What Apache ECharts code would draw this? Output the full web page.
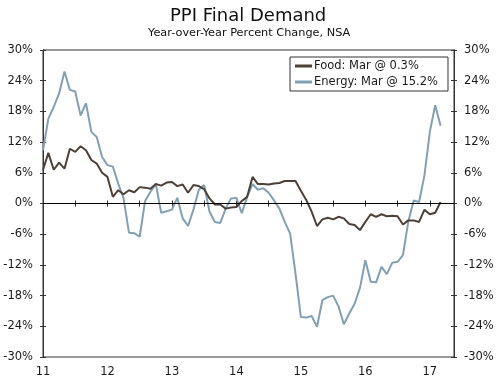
<!DOCTYPE html>
<html>
<head>
<meta charset="utf-8">
<script src="https://cdn.jsdelivr.net/npm/echarts@6/dist/echarts.min.js"></script>
<style>html,body{margin:0;padding:0;background:#fff;}#c{width:500px;height:378px;}</style>
</head>
<body>
<div id="c"></div>
<script>
var startYear = 2011;
var foodName = 'Food: Mar @ 0.3%';
var energyName = 'Energy: Mar @ 15.2%';
var food = [6.6, 9.9, 6.6, 8.0, 6.8, 10.7, 10.1, 11.2, 10.4, 8.5, 7.8, 6.0,
  5.2, 1.3, 2.6, 1.8, 2.6, 2.2, 3.2, 3.1, 2.9, 3.8, 3.5, 4.1,
  4.2, 3.4, 3.7, 2.1, 3.6, 3.4, 2.8, 1.0, -0.2, -0.2, -1.0, -0.8,
  -0.7, 0.5, 1.3, 5.2, 3.8, 3.8, 3.7, 3.9, 4.0, 4.4, 4.4, 4.4,
  2.5, 0.7, -1.6, -4.4, -3.1, -2.8, -3.1, -2.6, -2.9, -4.0, -4.2, -5.2,
  -3.6, -2.1, -2.6, -2.1, -2.5, -2.4, -2.5, -4.1, -3.3, -3.3, -3.6, -1.2,
  -2.1, -1.8, 0.3];
var energy = [10.4, 16.6, 18.9, 21.5, 25.8, 22.2, 21.9, 17.2, 19.6, 14.0, 13.0, 9.1,
  7.5, 7.2, 3.9, 1.0, -5.7, -5.8, -6.5, 0.5, 2.3, 3.8, -1.8, -1.5,
  -1.2, 1.1, -2.9, -4.4, -1.2, 2.7, 3.6, -1.6, -3.6, -3.8, -1.0, 1.0,
  1.1, -1.9, 1.3, 3.8, 2.7, 3.0, 2.1, 0.6, -1.0, -3.6, -5.9, -13.7,
  -22.2, -22.3, -22.0, -24.1, -18.9, -18.3, -18.0, -20.1, -23.6, -21.5, -19.6, -16.5,
  -11.1, -15.3, -15.4, -12.4, -13.8, -11.6, -11.4, -10.1, -3.5, 0.6, 0.3, 5.5,
  14.0, 19.2, 15.2];
var yTicks = [-30, -24, -18, -12, -6, 0, 6, 12, 18, 24, 30];

function toPairs(arr) {
  return arr.map(function (v, i) { return [startYear + i / 12, v]; });
}

var FONT = 'DejaVu Sans';
var TXT = '#1a1a1a';
var AX = '#333';

function yAx(pos, inside, show) {
  return {
    type: 'value', position: pos, min: yTicks[0], max: yTicks[yTicks.length - 1], interval: 6,
    axisLine: { show: true, lineStyle: { color: AX, width: 1 } },
    axisTick: { show: true, inside: inside, length: 3, lineStyle: { color: AX } },
    axisLabel: { show: show, margin: 10, color: TXT, fontFamily: FONT, fontSize: 11.5, formatter: '{value}%' },
    splitLine: { show: false }
  };
}
function xAx(inside, show) {
  return {
    type: 'value', position: 'bottom', min: startYear, max: 2017.375, interval: 0.5,
    axisLine: { show: true, lineStyle: { color: AX, width: 1 } },
    axisTick: { show: true, inside: inside, length: 3, lineStyle: { color: AX } },
    axisLabel: {
      show: show, margin: 9, color: TXT, fontFamily: FONT, fontSize: 11.5, showMaxLabel: false,
      formatter: function (v) { return Math.abs(v - Math.round(v)) < 1e-6 ? String(Math.round(v) % 100) : ''; }
    },
    splitLine: { show: false }
  };
}

var chart = echarts.init(document.getElementById('c'), null, { renderer: 'canvas' });
chart.setOption({
  animation: false,
  backgroundColor: '#fff',
  title: [
    { text: 'PPI Final Demand', left: 165, top: 2,
      textStyle: { fontFamily: FONT, fontSize: 18, fontWeight: 'normal', color: '#111' } },
    { text: 'Year-over-Year Percent Change, NSA', left: 143, top: 23,
      textStyle: { fontFamily: FONT, fontSize: 11.3, fontWeight: 'normal', color: '#111' } }
  ],
  legend: {
    orient: 'vertical', left: 290, top: 57,
    backgroundColor: '#fff', borderColor: '#333', borderWidth: 1, borderRadius: 0,
    padding: [3, 10, 3, 5], itemGap: 4, itemWidth: 17, itemHeight: 3, icon: 'rect',
    textStyle: { fontFamily: FONT, fontSize: 11.5, color: TXT, padding: [0, 0, 0, -3] },
    data: [foodName, energyName]
  },
  grid: { left: 43, right: 46, top: 50, bottom: 21, show: true, borderColor: AX, borderWidth: 1, backgroundColor: 'transparent' },
  xAxis: [xAx(false, true), xAx(true, false)],
  yAxis: [yAx('left', false, true), yAx('right', false, true), yAx('left', true, false), yAx('right', true, false)],
  series: [
    { name: foodName, type: 'line', data: toPairs(food), showSymbol: false, symbol: 'none',
      lineStyle: { color: '#4d4036', width: 2 }, itemStyle: { color: '#4d4036' }, z: 3,
      markLine: { silent: true, symbol: 'none', label: { show: false },
        lineStyle: { color: '#000', width: 1, type: 'solid' }, data: [{ yAxis: 0 }] } },
    { name: energyName, type: 'line', data: toPairs(energy), showSymbol: false, symbol: 'none',
      lineStyle: { color: '#82a0b4', width: 2 }, itemStyle: { color: '#82a0b4' }, z: 2 }
  ]
});
</script>
</body>
</html>
